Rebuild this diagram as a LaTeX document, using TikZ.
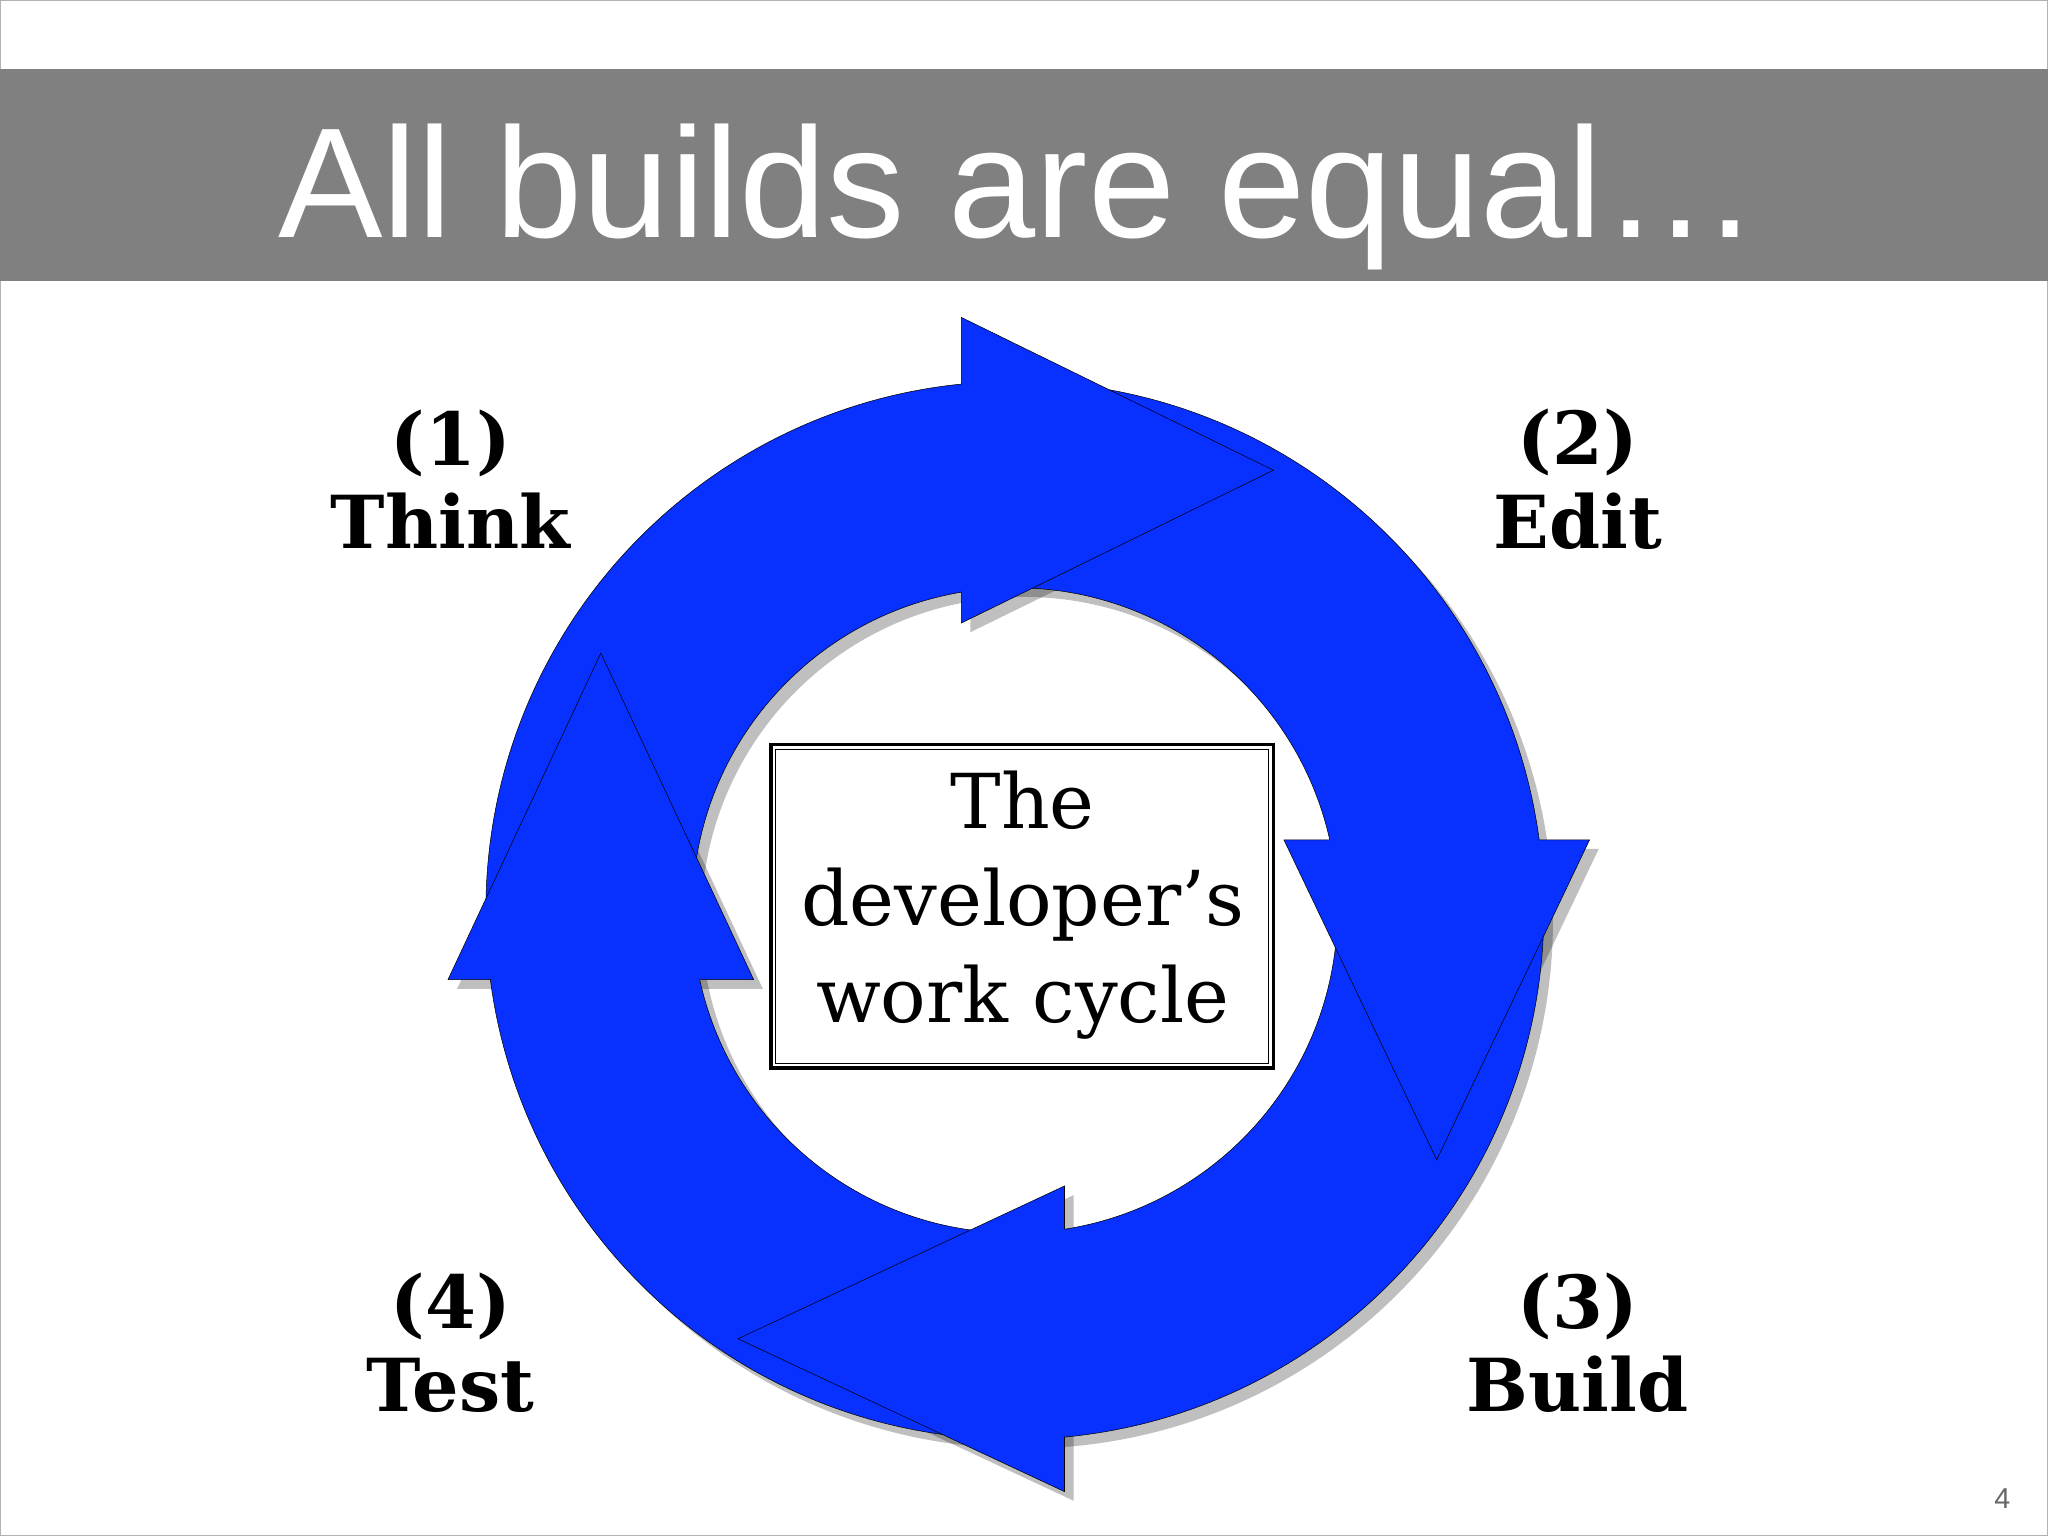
\documentclass[tikz,border=0pt]{standalone}
\usepackage{fontspec}
\setmainfont{DejaVu Serif}
\newfontfamily\titlefont{Liberation Sans}
\begin{document}
\begin{tikzpicture}[x=1pt,y=-1pt,
  shad/.style={fill=black,opacity=0.25},
  lbl/.style={font=\fontsize{56}{64}\selectfont\bfseries,align=center,text=black}]
\definecolor{ringblue}{RGB}{8,48,255}
\useasboundingbox (0,0) rectangle (1568,1176);
\fill[white] (0,0) rectangle (1568,1176);
\draw[gray!60] (0.5,0.5) rectangle (1567.5,1175.5);
\fill[gray] (0,53) rectangle (1568,215);
\node[text=white,font=\titlefont\fontsize{120}{132}\selectfont,anchor=base] (title) at (780,182) {All builds are equal\dots};
% shadows
\begin{scope}[shift={(7,7)}]
\fill[shad,even odd rule] (777,697) circle (405) (777,697) circle (247);
\fill[shad] (736,243)--(975,360)--(736,477)--cycle;
\fill[shad] (983,643)--(1217,643)--(1100,888)--cycle;
\fill[shad] (815,908)--(565,1025)--(815,1142)--cycle;
\fill[shad] (343,750)--(460,500)--(577,750)--cycle;
\end{scope}
% ring
\fill[ringblue,even odd rule] (777,697) circle (405) (777,697) circle (247);
\draw[thin] (777,697) circle (405);
\draw[thin] (777,697) circle (247);
% heads
\fill[ringblue] (736,243)--(975,360)--(736,477)--cycle;
\draw[thin] (736,294)--(736,243)--(975,360)--(736,477)--(736,453);
\fill[ringblue] (983,643)--(1217,643)--(1100,888)--cycle;
\draw[thin] (1018,643)--(983,643)--(1100,888)--(1217,643)--(1178,643);
\fill[ringblue] (815,908)--(565,1025)--(815,1142)--cycle;
\draw[thin] (815,941)--(815,908)--(565,1025)--(815,1142)--(815,1100);
\fill[ringblue] (343,750)--(460,500)--(577,750)--cycle;
\draw[thin] (376,750)--(343,750)--(460,500)--(577,750)--(536,750);
% center box
\draw[line width=3pt,fill=white] (590,570) rectangle (975,818);
\draw[line width=0.8pt] (594,574) rectangle (971,814);
\node[lbl,font=\fontsize{58}{74}\selectfont] (center) at (783,693) {The\\developer’s\\work cycle};
% labels
\node[lbl] (l1) at (345,367) {(1)\\Think};
\node[lbl] (l2) at (1208,367) {(2)\\Edit};
\node[lbl] (l3) at (1208,1028) {(3)\\Build};
\node[lbl] (l4) at (345,1028) {(4)\\Test};
\node[text=gray!80!black,font=\titlefont\fontsize{22}{24}\selectfont] (pg) at (1533,1147) {4};
\end{tikzpicture}
\end{document}
